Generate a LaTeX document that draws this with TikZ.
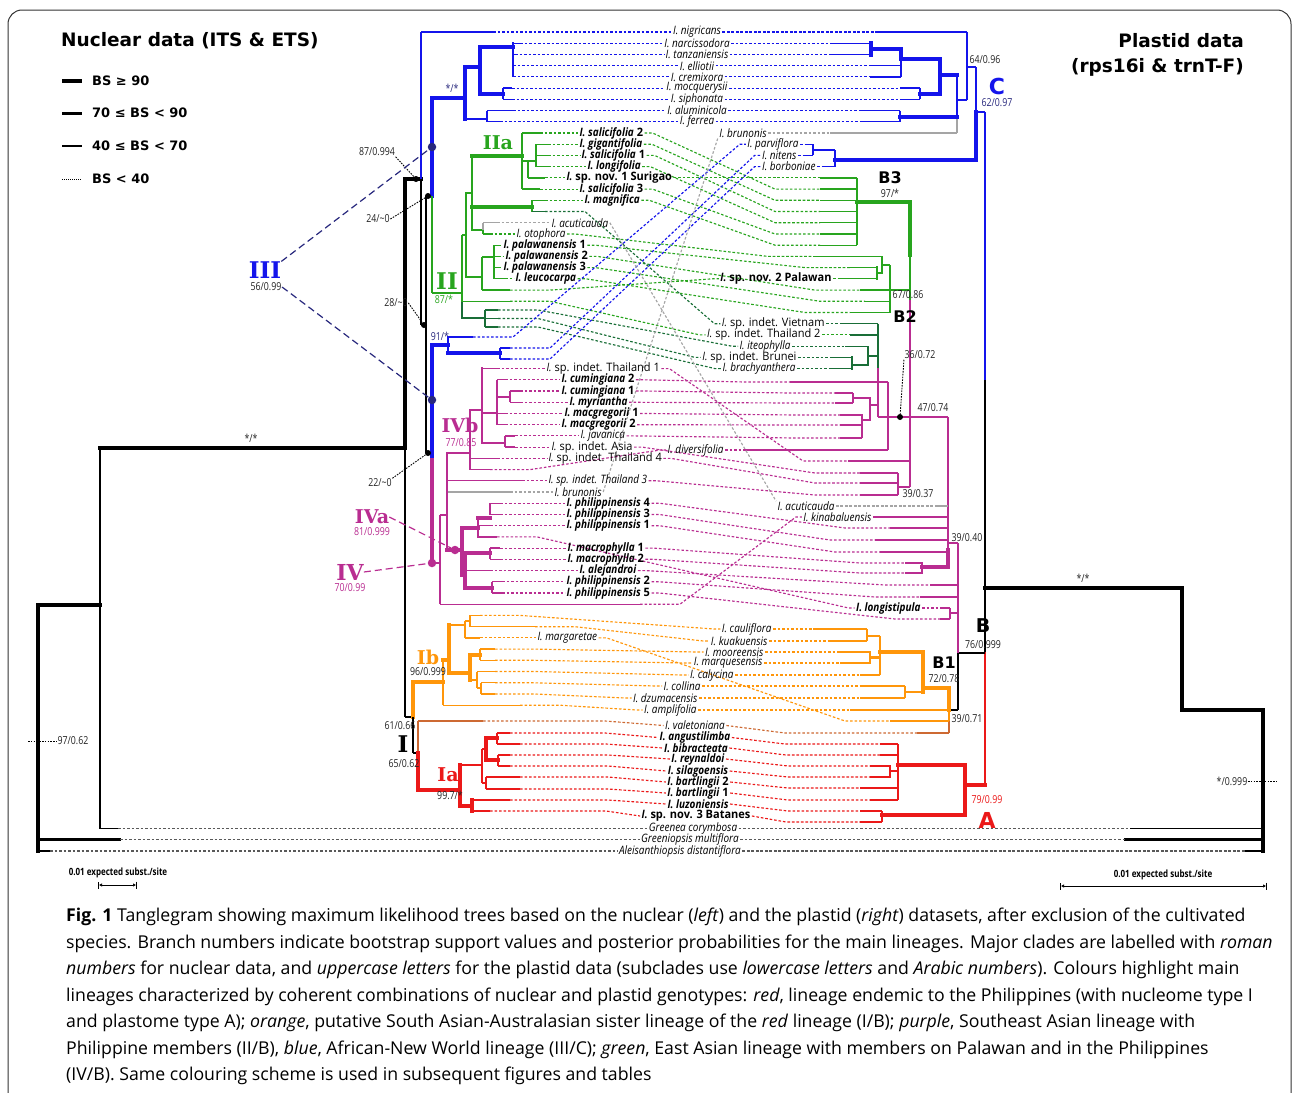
\documentclass[tikz,border=0pt]{standalone}
\usepackage{fontspec}
\setmainfont{Open Sans}
\newfontfamily\labff[UprightFeatures={FakeStretch=0.95},BoldFeatures={FakeStretch=0.95},ItalicFeatures={FakeStretch=0.86},BoldItalicFeatures={FakeStretch=0.86}]{Open Sans}
\newfontfamily\numff[FakeStretch=0.80]{Open Sans}
\newfontfamily\hdff{DejaVu Sans}
\newfontfamily\clff{DejaVu Serif}
\usetikzlibrary{arrows.meta,calc}
\definecolor{cB}{RGB}{20,20,235}
\definecolor{cG}{RGB}{40,165,30}
\definecolor{cD}{RGB}{25,110,55}
\definecolor{cP}{RGB}{185,45,145}
\definecolor{cO}{RGB}{255,150,10}
\definecolor{cR}{RGB}{235,25,25}
\definecolor{cBr}{RGB}{205,105,50}
\definecolor{cGr}{RGB}{165,165,165}
\definecolor{cN}{RGB}{40,40,125}
\definecolor{cK}{RGB}{35,35,35}
\tikzset{
 th/.style={line width=1.3pt},
 md/.style={line width=2.8pt, line cap=rect},
 tk/.style={line width=4.2pt, line cap=rect},
 con/.style={line width=1.15pt, dash pattern=on 2.6pt off 1.9pt},
 lab/.style={font=\labff\fontsize{11.6}{12}\selectfont, inner xsep=1.3pt, inner ysep=0.2pt},
 sv/.style={font=\numff\fontsize{11}{11}\selectfont, inner sep=0.5pt, text=cK},
 ldr/.style={line width=0.9pt, dash pattern=on 1.6pt off 1.2pt},
 dashl/.style={line width=1.2pt, dash pattern=on 7pt off 4pt},
 dotsm/.style={circle, fill, inner sep=0pt, minimum size=6pt},
 dotbg/.style={circle, fill, inner sep=0pt, minimum size=8.5pt},
 clf/.style={font=\clff\bfseries\fontsize{#1}{#1}\selectfont, inner sep=0pt},
 clr/.style={font=\hdff\bfseries\fontsize{#1}{#1}\selectfont, inner sep=0pt},
 lgd/.style={font=\hdff\bfseries\fontsize{13}{14}\selectfont, anchor=west, inner sep=0pt},
 captxt/.style={font=\fontsize{17.7}{19}\selectfont, anchor=west, inner sep=0pt},
 ttl/.style={font=\hdff\bfseries\fontsize{18.5}{20}\selectfont, inner sep=0pt},
}
% label on the left row (anchor west at #7)
\newcommand\tL[8]{\node[lab,anchor=west] (#1) at (#7,#4) {#8};
 \draw[con,#2] (#3,#4) -- (#1.west);
 \draw[con,#2] (#1.east) -- ++(8,0) -- (#5-45,#6) -- (#5,#6);}
% label on the right row (anchor east at #7)
\newcommand\tR[8]{\node[lab,anchor=east] (#1) at (#7,#6) {#8};
 \draw[con,#2] (#3,#4) -- (#3+40,#4) -- ([xshift=-6pt]#1.west) -- (#1.west);
 \draw[con,#2] (#1.east) -- (#5,#6);}
% label centred at (#7,#8)
\newcommand\tM[9]{\node[lab] (#1) at (#7,#8) {#9};
 \draw[con,#2] (#3,#4) -- (#7-90,#4) -- (#1.west);
 \draw[con,#2] (#1.east) -- (#7+90,#6) -- (#5,#6);}
\begin{document}
\begin{tikzpicture}[x=1pt,y=-1pt]
\useasboundingbox (0,0) rectangle (1292,1092);
\draw[line width=1pt, rounded corners=14pt, black!80] (8,10) rectangle (1291,1110);
% ---------------- titles and legend
\node[ttl, anchor=west] (t1) at (61,41) {Nuclear data (ITS \& ETS)};
\node[ttl, anchor=east] (t2) at (1244,41) {Plastid data};
\node[ttl, anchor=east] (t3) at (1244,67) {(rps16i \& trnT-F)};
\draw[line width=4.5pt] (62,81) -- (82,81);
\draw[line width=3pt] (62,113) -- (82,113);
\draw[line width=1.4pt] (62,146) -- (82,146);
\draw[line width=1pt, dash pattern=on 1pt off 1pt] (62,179) -- (82,179);
\node[lgd] (lg1) at (92,81) {BS ≥ 90};
\node[lgd] (lg2) at (92,113) {70 ≤ BS < 90};
\node[lgd] (lg3) at (92,146) {40 ≤ BS < 70};
\node[lgd] (lg4) at (92,179) {BS < 40};
% ================= LEFT TREE
\draw[tk] (38,605) -- (38,851);
\draw[tk] (38,605) -- (100,605);
\draw[th] (100,448) -- (100,828.6);
\draw[tk] (100,448) -- (405,448);
\draw[th] (100,828.6) -- (118,828.6);
\draw[md] (38,839.8) -- (120,839.8);
\draw[th] (38,851) -- (50,851);
\draw[tk] (405,179) -- (405,448);
\draw[th] (405,448) -- (405,717);
\draw[tk] (405,179) -- (421,179);
\draw[th,cB] (421,32) -- (421,179);
\draw[th] (421,179) -- (421,325);
\draw[th,cB] (421,32) -- (493,32);
\draw[th] (421,325) -- (426,325);
\draw[th] (426,196) -- (426,453);
\draw[th] (426,196) -- (432,196);
\draw[th] (426,453) -- (432,453);
\draw[tk,cB] (432,98) -- (432,196);
\draw[th,cG] (432,196) -- (432,293);
\draw[tk,cB] (432,98) -- (465,98);
\draw[tk,cB] (465,67) -- (465,119);
\draw[tk,cB] (465,67) -- (480,67);
\draw[tk,cB] (480,47) -- (480,94);
\draw[tk,cB] (480,94) -- (503,94);
\draw[th,cB] (503,88.1) -- (503,99.3);
\draw[th,cB] (503,88.1) -- (512,88.1);
\draw[th,cB] (503,99.3) -- (512,99.3);
\draw[tk,cB] (480,47) -- (513,47);
\draw[md,cB] (513,43.2) -- (513,55);
\draw[th,cB] (513,55) -- (513,76.9);
\draw[th,cB] (513,43.2) -- (520,43.2);
\draw[th,cB] (513,54.4) -- (515,54.4);
\draw[th,cB] (487,119) -- (465,119);
\draw[th,cB] (487,110.5) -- (487,121.8);
\draw[th,cB] (487,110.5) -- (513,110.5);
\draw[th,cB] (487,121.8) -- (500,121.8);
\draw[th,cG] (432,293) -- (462,293);
\draw[th,cG] (462,235) -- (462,303);
\draw[md,cD] (462,303) -- (462,318);
\draw[th,cG] (462,235) -- (466,235);
\draw[th,cG] (466,193) -- (466,277);
\draw[md,cG] (466,193) -- (472,193);
\draw[md,cG] (466,277) -- (482,277);
\draw[md,cG] (472,156) -- (472,230);
\draw[tk,cG] (472,156) -- (522,156);
\draw[th,cG] (522,133) -- (522,189.1);
\draw[th,cG] (522,133) -- (540,133);
\draw[th,cG] (522,189.1) -- (540,189.1);
\draw[md,cG] (522,161) -- (528,161);
\draw[th,cG] (528,161) -- (528,177.9);
\draw[th,cG] (528,177.9) -- (545,177.9);
\draw[md,cG] (528,161) -- (536,161);
\draw[th,cG] (536,144.2) -- (536,166.6);
\draw[th,cG] (536,144.2) -- (548,144.2);
\draw[th,cG] (536,155.4) -- (548,155.4);
\draw[th,cG] (536,166.6) -- (548,166.6);
\draw[tk,cG] (472,207) -- (532,207);
\draw[th,cG] (532,200.3) -- (532,211.5);
\draw[th,cG] (532,200.3) -- (545,200.3);
\draw[th,cD] (532,211.5) -- (545,211.5);
\draw[th,cG] (472,230) -- (483,230);
\draw[th,cGr] (483,222.7) -- (483,230);
\draw[th,cG] (483,230) -- (483,234);
\draw[th,cGr] (483,222.7) -- (497,222.7);
\draw[th,cG] (483,234) -- (490,234);
\draw[th,cG] (482,257) -- (482,290.1);
\draw[th,cG] (482,257) -- (494,257);
\draw[th,cG] (482,290.1) -- (510,290.1);
\draw[th,cG] (494,245.2) -- (494,278.8);
\draw[th,cG] (494,245.2) -- (498,245.2);
\draw[th,cG] (494,256.4) -- (498,256.4);
\draw[th,cG] (494,267.6) -- (498,267.6);
\draw[th,cG] (494,278.8) -- (505,278.8);
\draw[th,cG] (462,301.3) -- (510,301.3);
\draw[md,cD] (462,318) -- (485,318);
\draw[th,cD] (485,310) -- (485,327);
\draw[th,cD] (485,310) -- (498,310);
\draw[th,cD] (485,318.5) -- (498,318.5);
\draw[th,cD] (485,327) -- (498,327);
\draw[tk,cB] (432,345) -- (432,460);
\draw[tk,cB] (432,345) -- (448,345);
\draw[md,cB] (448,337) -- (448,353);
\draw[th,cB] (448,337) -- (473,337);
\draw[tk,cB] (448,353) -- (500,353);
\draw[th,cB] (500,348) -- (500,359);
\draw[th,cB] (500,348) -- (510,348);
\draw[th,cB] (500,359) -- (510,359);
\draw[tk,cP] (432,460) -- (432,563);
\draw[th,cP] (432,563) -- (440,563);
\draw[th,cP] (440,515) -- (440,604.2);
\draw[th,cP] (440,604.2) -- (640,604.2);
\draw[th,cP] (440,515) -- (447,515);
\draw[md,cP] (447,453) -- (447,550);
\draw[md,cP] (447,453) -- (470,453);
\draw[th,cP] (447,480.8) -- (522,480.8);
\draw[th,cGr] (448,492) -- (510,492);
\draw[th,cP] (470,410) -- (470,469.6);
\draw[md,cP] (470,410) -- (482,410);
\draw[th,cP] (470,458.4) -- (497,458.4);
\draw[th,cP] (470,469.6) -- (490,469.6);
\draw[md,cP] (482,368.6) -- (482,443);
\draw[th,cP] (482,368.6) -- (497,368.6);
\draw[md,cP] (482,413) -- (497,413);
\draw[md,cP] (482,443) -- (505,443);
\draw[th,cP] (497,379.8) -- (497,424.7);
\draw[th,cP] (497,379.8) -- (505,379.8);
\draw[th,cP] (497,413.5) -- (505,413.5);
\draw[th,cP] (497,424.7) -- (505,424.7);
\draw[md,cP] (497,397) -- (510,397);
\draw[th,cP] (510,391) -- (510,402.3);
\draw[th,cP] (510,391) -- (520,391);
\draw[th,cP] (510,402.3) -- (520,402.3);
\draw[th,cP] (505,435.9) -- (505,447.1);
\draw[th,cP] (505,435.9) -- (515,435.9);
\draw[th,cP] (505,447.1) -- (515,447.1);
\draw[tk,cP] (447,550) -- (462,550);
\draw[tk,cP] (462,528) -- (462,575);
\draw[tk,cP] (462,528) -- (478,528);
\draw[md,cP] (478,518) -- (478,536.9);
\draw[tk,cP] (478,518) -- (490,518);
\draw[th,cP] (490,503.2) -- (490,514.5);
\draw[th,cP] (490,503.2) -- (500,503.2);
\draw[th,cP] (490,514.5) -- (500,514.5);
\draw[th,cP] (478,525.7) -- (490,525.7);
\draw[th,cP] (478,536.9) -- (497,536.9);
\draw[tk,cP] (462,575) -- (465,575);
\draw[tk,cP] (465,553) -- (465,588);
\draw[tk,cP] (465,553) -- (490,553);
\draw[th,cP] (490,548.1) -- (490,559.3);
\draw[th,cP] (490,548.1) -- (500,548.1);
\draw[th,cP] (490,559.3) -- (500,559.3);
\draw[th,cP] (465,570.6) -- (490,570.6);
\draw[tk,cP] (465,588) -- (492,588);
\draw[th,cP] (492,581.8) -- (492,593);
\draw[th,cP] (492,581.8) -- (502,581.8);
\draw[th,cP] (492,593) -- (502,593);
\draw[th] (405,717) -- (413,717);
\draw[tk,cO] (413,682) -- (413,717);
\draw[th] (413,717) -- (413,753);
\draw[tk,cO] (413,682) -- (443,682);
\draw[th,cO] (443,660) -- (443,705.2);
\draw[tk,cO] (443,660) -- (449,660);
\draw[th,cO] (443,705.2) -- (520,705.2);
\draw[tk,cO] (449,625) -- (449,673);
\draw[th,cO] (449,625) -- (465,625);
\draw[th,cO] (465,621) -- (465,637.9);
\draw[th,cO] (465,621) -- (470,621);
\draw[th,cO] (470,615.4) -- (470,626.7);
\draw[th,cO] (470,615.4) -- (480,615.4);
\draw[th,cO] (470,626.7) -- (535,626.7);
\draw[th,cO] (465,637.9) -- (480,637.9);
\draw[tk,cO] (449,673) -- (470,673);
\draw[tk,cO] (470,655) -- (470,680);
\draw[tk,cO] (470,655) -- (480,655);
\draw[th,cO] (480,649.1) -- (480,660.3);
\draw[th,cO] (480,649.1) -- (495,649.1);
\draw[th,cO] (480,660.3) -- (495,660.3);
\draw[th,cO] (470,680) -- (477,680);
\draw[th,cO] (477,671.5) -- (477,688);
\draw[th,cO] (477,671.5) -- (495,671.5);
\draw[th,cO] (477,688) -- (481,688);
\draw[th,cO] (481,682.8) -- (481,694);
\draw[th,cO] (481,682.8) -- (495,682.8);
\draw[th,cO] (481,694) -- (495,694);
\draw[th] (413,753) -- (418,753);
\draw[th,cBr] (418,721) -- (418,753);
\draw[tk,cR] (418,753) -- (418,790);
\draw[th,cBr] (418,721) -- (483,721);
\draw[tk,cR] (418,790) -- (460,790);
\draw[tk,cR] (460,765) -- (460,806);
\draw[th,cR] (460,765) -- (482,765);
\draw[th,cR] (482,749) -- (482,783);
\draw[th,cR] (482,749) -- (486,749);
\draw[tk,cR] (486,738) -- (486,760);
\draw[tk,cR] (486,738) -- (497,738);
\draw[th,cR] (497,733) -- (497,744);
\draw[th,cR] (497,733) -- (510,733);
\draw[th,cR] (497,744) -- (520,744);
\draw[tk,cR] (486,760) -- (498,760);
\draw[th,cR] (498,755) -- (498,766);
\draw[th,cR] (498,755) -- (510,755);
\draw[th,cR] (498,766) -- (510,766);
\draw[th,cR] (482,783) -- (486,783);
\draw[th,cR] (486,777) -- (486,789);
\draw[th,cR] (486,777) -- (520,777);
\draw[th,cR] (486,789) -- (520,789);
\draw[tk,cR] (460,806) -- (472,806);
\draw[tk,cR] (472,800) -- (472,811);
\draw[th,cR] (472,800) -- (510,800);
\draw[th,cR] (472,811) -- (490,811);
% ================= RIGHT TREE
\draw[tk] (985,588) -- (1182,588);
\draw[tk] (1182,588) -- (1182,710);
\draw[tk] (1182,710) -- (1263,710);
\draw[tk] (1263,710) -- (1263,851);
\draw[th] (1130,828.6) -- (1263,828.6);
\draw[md] (1125,839.8) -- (1263,839.8);
\draw[th] (1245,851) -- (1263,851);
\draw[th,cB] (985,112) -- (985,380);
\draw[th] (985,380) -- (985,653);
\draw[md,cR] (985,653) -- (985,785);
\draw[th,cB] (985,112) -- (976,112);
\draw[th,cB] (976,67) -- (976,112);
\draw[tk,cB] (976,112) -- (976,160);
\draw[th,cB] (976,67) -- (967,67);
\draw[th,cB] (967,32) -- (967,100);
\draw[th,cB] (878,32) -- (967,32);
\draw[th,cB] (967,100) -- (957,100);
\draw[th,cB] (957,75) -- (957,117);
\draw[th,cGr] (957,117) -- (957,133);
\draw[tk,cB] (957,75) -- (940,75);
\draw[tk,cB] (940,59) -- (940,94);
\draw[tk,cB] (940,59) -- (901,59);
\draw[tk,cB] (901,48.8) -- (901,59);
\draw[th,cB] (901,59) -- (901,76.9);
\draw[tk,cB] (901,48.8) -- (871,48.8);
\draw[tk,cB] (871,43.2) -- (871,54.4);
\draw[th,cB] (830,43.2) -- (871,43.2);
\draw[th,cB] (830,54.4) -- (871,54.4);
\draw[th,cB] (870,65.7) -- (901,65.7);
\draw[th,cB] (870,76.9) -- (901,76.9);
\draw[tk,cB] (940,94) -- (920,94);
\draw[th,cB] (920,88.1) -- (920,99.3);
\draw[th,cB] (900,88.1) -- (920,88.1);
\draw[th,cB] (900,99.3) -- (920,99.3);
\draw[tk,cB] (957,117) -- (900,117);
\draw[th,cB] (900,110.5) -- (900,121.8);
\draw[th,cB] (860,110.5) -- (900,110.5);
\draw[th,cB] (860,121.8) -- (900,121.8);
\draw[th,cGr] (830,133) -- (957,133);
\draw[tk,cB] (976,160) -- (835,160);
\draw[th,cB] (835,150) -- (835,166.6);
\draw[th,cB] (835,150) -- (813,150);
\draw[th,cB] (813,144.2) -- (813,155.4);
\draw[th,cB] (805,144.2) -- (813,144.2);
\draw[th,cB] (805,155.4) -- (813,155.4);
\draw[th,cB] (822,166.6) -- (835,166.6);
\draw[th] (985,653) -- (958,653);
\draw[th,cP] (958,543) -- (958,653);
\draw[th] (958,653) -- (958,710);
\draw[th,cP] (958,543) -- (948,543);
\draw[th,cP] (948,417) -- (948,550);
\draw[tk,cP] (948,550) -- (948,567);
\draw[th,cP] (948,417) -- (878,417);
\draw[th,cP] (888,382) -- (888,450);
\draw[th,cP] (790,382) -- (888,382);
\draw[th,cP] (745,450) -- (888,450);
\draw[th,cD] (878,323.7) -- (878,368);
\draw[th,cP] (878,368) -- (878,417);
\draw[th,cD] (840,323.7) -- (878,323.7);
\draw[th,cD] (850,334.9) -- (878,334.9);
\draw[th,cD] (868,356) -- (878,356);
\draw[th,cD] (868,346.2) -- (868,365);
\draw[th,cD] (845,346.2) -- (868,346.2);
\draw[md,cD] (852,365) -- (868,365);
\draw[md,cD] (852,357.4) -- (852,368.6);
\draw[th,cD] (830,357.4) -- (852,357.4);
\draw[th,cD] (830,368.6) -- (852,368.6);
\draw[md,cP] (878,405) -- (870,405);
\draw[md,cP] (870,398) -- (870,420);
\draw[th,cP] (870,398) -- (853,398);
\draw[th,cP] (853,393) -- (853,403);
\draw[th,cP] (835,393) -- (853,393);
\draw[th,cP] (835,403) -- (853,403);
\draw[md,cP] (870,420) -- (862,420);
\draw[th,cP] (862,415) -- (862,438);
\draw[md,cP] (862,415) -- (862,425);
\draw[th,cP] (840,415) -- (862,415);
\draw[th,cP] (840,425) -- (862,425);
\draw[th,cP] (840,438) -- (862,438);
\draw[tk,cG] (910,202) -- (910,255);
\draw[th,cG] (910,255) -- (910,300);
\draw[th,cP] (910,300) -- (910,487);
\draw[tk,cG] (910,202) -- (857,202);
\draw[th,cG] (857,177.9) -- (857,245.2);
\foreach \yy in {177.9,189.1,200.3,211.5,222.7,234,245.2} {\draw[th,cG] (820,\yy) -- (857,\yy);}
\draw[th,cG] (890,290) -- (910,290);
\draw[th,cG] (890,265) -- (890,312.5);
\draw[th,cG] (890,265) -- (882,265);
\draw[th,cG] (882,256.4) -- (882,273);
\draw[th,cG] (813,256.4) -- (882,256.4);
\draw[md,cG] (882,273) -- (877,273);
\draw[md,cG] (877,267.6) -- (877,278.8);
\draw[th,cG] (850,267.6) -- (877,267.6);
\draw[th,cG] (840,278.8) -- (877,278.8);
\draw[th,cG] (860,290.1) -- (890,290.1);
\draw[th,cG] (865,301.3) -- (890,301.3);
\draw[th,cG] (850,312.5) -- (890,312.5);
\draw[th,cP] (848,461) -- (910,461);
\draw[th,cP] (910,487) -- (898,487);
\draw[th,cP] (898,473) -- (898,495);
\draw[th,cP] (860,473) -- (898,473);
\draw[th,cP] (860,483) -- (898,483);
\draw[th,cP] (860,495) -- (898,495);
\draw[th,cGr] (935,506) -- (948,506);
\draw[th,cP] (875,517) -- (948,517);
\draw[th,cP] (890,528) -- (948,528);
\draw[th,cP] (875,540) -- (948,540);
\draw[th,cP] (880,552) -- (948,552);
\draw[tk,cP] (948,567) -- (922,567);
\draw[md,cP] (922,563) -- (922,573);
\draw[th,cP] (905,563) -- (922,563);
\draw[th,cP] (905,573) -- (922,573);
\draw[th,cP] (930,585) -- (958,585);
\draw[th,cP] (920,597) -- (958,597);
\draw[th,cP] (950,613) -- (958,613);
\draw[th,cP] (950,608) -- (950,619);
\draw[th,cP] (940,608) -- (950,608);
\draw[th,cP] (940,619) -- (950,619);
\draw[th] (958,710) -- (949,710);
\draw[tk,cO] (949,688) -- (949,710);
\draw[th,cO] (949,710) -- (949,721);
\draw[th,cBr] (949,721) -- (949,733);
\draw[tk,cO] (949,688) -- (923,688);
\draw[tk,cO] (923,652) -- (923,692);
\draw[tk,cO] (923,652) -- (880,652);
\draw[th,cO] (880,636) -- (880,675);
\draw[th,cO] (880,636) -- (867,636);
\draw[th,cO] (867,629) -- (867,641);
\draw[th,cO] (813,629) -- (867,629);
\draw[th,cO] (830,641) -- (867,641);
\draw[md,cO] (880,657.5) -- (870,657.5);
\draw[md,cO] (870,652) -- (870,663);
\draw[th,cO] (840,652) -- (870,652);
\draw[th,cO] (840,663) -- (870,663);
\draw[th,cO] (860,675) -- (880,675);
\draw[th,cO] (923,692) -- (905,692);
\draw[th,cO] (905,686) -- (905,698);
\draw[th,cO] (860,686) -- (905,686);
\draw[th,cO] (860,698) -- (905,698);
\draw[th,cO] (850,710) -- (949,710);
\draw[th,cO] (890,721) -- (949,721);
\draw[th,cBr] (917,733) -- (949,733);
\draw[tk,cR] (985,785) -- (965,785);
\draw[tk,cR] (965,765) -- (965,815);
\draw[tk,cR] (965,765) -- (898,765);
\draw[th,cR] (898,744) -- (898,800);
\draw[th,cR] (880,744) -- (898,744);
\draw[th,cR] (880,755) -- (898,755);
\draw[th,cR] (860,788) -- (898,788);
\draw[th,cR] (870,800) -- (898,800);
\draw[md,cR] (898,771) -- (890,771);
\draw[md,cR] (890,766) -- (890,777);
\draw[th,cR] (870,766) -- (890,766);
\draw[th,cR] (870,777) -- (890,777);
\draw[tk,cR] (965,815) -- (882,815);
\draw[th,cR] (882,811) -- (882,822);
\draw[th,cR] (860,811) -- (882,811);
\draw[th,cR] (860,822) -- (882,822);
% ================= CONNECTORS
\tM{b1}{cB}{493}{32}{878}{32}{697}{32}{\textit{I. nigricans}}
\tM{b2}{cB}{520}{43.2}{830}{43.2}{697}{43.2}{\textit{I. narcissodora}}
\tM{b3}{cB}{515}{54.4}{830}{54.4}{697}{54.4}{\textit{I. tanzaniensis}}
\tM{b4}{cB}{513}{65.7}{870}{65.7}{697}{65.7}{\textit{I. elliotii}}
\tM{b5}{cB}{513}{76.9}{870}{76.9}{697}{76.9}{\textit{I. cremixora}}
\tM{b6}{cB}{512}{88.1}{900}{88.1}{697}{88.1}{\textit{I. mocquerysii}}
\tM{b7}{cB}{512}{99.3}{900}{99.3}{697}{99.3}{\textit{I. siphonata}}
\tM{b8}{cB}{513}{110.5}{860}{110.5}{697}{110.5}{\textit{I. aluminicola}}
\tM{b9}{cB}{500}{121.8}{860}{121.8}{697}{121.8}{\textit{I. ferrea}}
\tL{g1}{cG}{540}{133}{820}{189.1}{578}{\textbf{\textit{I. salicifolia} 2}}
\tL{g2}{cG}{548}{144.2}{820}{200.3}{578}{\textbf{\textit{I. gigantifolia}}}
\tL{g3}{cG}{548}{155.4}{820}{211.5}{580}{\textbf{\textit{I. salicifolia} 1}}
\tL{g4}{cG}{548}{166.6}{820}{222.7}{586}{\textbf{\textit{I. longifolia}}}
\tL{g5}{cG}{545}{177.9}{820}{177.9}{565}{\textbf{\textit{I.} sp. nov. 1 Surigao}}
\tL{g6}{cG}{540}{189.1}{820}{234}{578}{\textbf{\textit{I. salicifolia} 3}}
\tL{g7}{cG}{545}{200.3}{820}{245.2}{583}{\textbf{\textit{I. magnifica}}}
\tL{g8}{cG}{490}{234}{813}{256.4}{515}{\textit{I. otophora}}
\tL{g9}{cG}{498}{245.2}{850}{267.6}{502}{\textbf{\textit{I. palawanensis} 1}}
\tL{g10}{cG}{498}{256.4}{860}{290.1}{504}{\textbf{\textit{I. palawanensis} 2}}
\tL{g11}{cG}{498}{267.6}{865}{301.3}{502}{\textbf{\textit{I. palawanensis} 3}}
\tL{g12}{cG}{505}{278.8}{850}{312.5}{514}{\textbf{\textit{I. leucocarpa}}}
\tR{g13}{cG}{510}{290.1}{840}{278.8}{833}{\textbf{\textit{I.} sp. nov. 2 Palawan}}
\tR{d1}{cD}{545}{211.5}{840}{323.7}{826}{\textit{I.} sp. indet. Vietnam}
\tR{d2}{cG}{510}{301.3}{850}{334.9}{822}{\textit{I.} sp. indet. Thailand 2}
\tR{d3}{cD}{498}{310}{845}{346.2}{792}{\textit{I. iteophylla}}
\tR{d4}{cD}{498}{318.5}{830}{357.4}{798}{\textit{I.} sp. indet. Brunei}
\tR{d5}{cD}{498}{327}{830}{368.6}{797}{\textit{I. brachyanthera}}
\tR{p1}{cB}{473}{337}{805}{144.2}{800}{\textit{I. parviflora}}
\tR{p2}{cB}{510}{348}{805}{155.4}{798}{\textit{I. nitens}}
\tR{p3}{cB}{510}{359}{822}{166.6}{817}{\textit{I. borboniae}}
\node[lab,anchor=west] (acA) at (550,222.7) {\textit{I. acuticauda}};
\node[lab] (acB) at (806,506) {\textit{I. acuticauda}};
\draw[con,cGr] (497,222.7) -- (acA.west);
\draw[con,cGr] (acA.east) -- (acB.north west);
\draw[con,cGr] (acB.east) -- (935,506);
\node[lab,anchor=west] (brA) at (553,492) {\textit{I. brunonis}};
\node[lab] (brB) at (743,133) {\textit{I. brunonis}};
\draw[con,cGr] (510,492) -- (brA.west);
\draw[con,cGr] (brA.east) -- (brB.south west);
\draw[con,cGr] (brB.east) -- (830,133);
\tL{k1}{cP}{497}{368.6}{848}{461}{545}{\textit{I.} sp. indet. Thailand 1}
\tL{k2}{cP}{505}{379.8}{790}{382}{560}{\textbf{\textit{I. cumingiana} 2}}
\tL{k3}{cP}{520}{391}{835}{393}{560}{\textbf{\textit{I. cumingiana} 1}}
\tL{k4}{cP}{520}{402.3}{835}{403}{568}{\textbf{\textit{I. myriantha}}}
\tL{k5}{cP}{505}{413.5}{840}{415}{563}{\textbf{\textit{I. macgregorii} 1}}
\tL{k6}{cP}{505}{424.7}{840}{425}{560}{\textbf{\textit{I. macgregorii} 2}}
\tL{k7}{cP}{515}{435.9}{840}{438}{579}{\textit{I. javanica}}
\tL{k8}{cP}{515}{447.1}{860}{473}{550}{\textit{I.} sp. indet. Asia}
\tR{k9}{cP}{490}{469.6}{745}{450}{725}{\textit{I. diversifolia}}
\tL{k10}{cP}{497}{458.4}{860}{483}{547}{\textit{I.} sp. indet. Thailand 4}
\tL{k11}{cP}{522}{480.8}{860}{495}{547}{\textit{I. sp. indet. Thailand 3}}
\tL{k12}{cP}{500}{503.2}{890}{528}{565}{\textbf{\textit{I. philippinensis} 4}}
\tL{k13}{cP}{500}{514.5}{875}{540}{565}{\textbf{\textit{I. philippinensis} 3}}
\tL{k14}{cP}{490}{525.7}{880}{552}{565}{\textbf{\textit{I. philippinensis} 1}}
\tR{k15}{cP}{640}{604.2}{875}{517}{873}{\textit{I. kinabaluensis}}
\tR{k16}{cP}{497}{536.9}{940}{608}{922}{\textbf{\textit{I. longistipula}}}
\tL{k17}{cP}{500}{548.1}{905}{563}{566}{\textbf{\textit{I. macrophylla} 1}}
\tL{k18}{cP}{500}{559.3}{905}{573}{566}{\textbf{\textit{I. macrophylla} 2}}
\tL{k19}{cP}{490}{570.6}{930}{585}{578}{\textbf{\textit{I. alejandroi}}}
\tL{k20}{cP}{502}{581.8}{920}{597}{565}{\textbf{\textit{I. philippinensis} 2}}
\tL{k21}{cP}{502}{593}{940}{619}{565}{\textbf{\textit{I. philippinensis} 5}}
\tR{o1}{cO}{480}{615.4}{813}{629}{773}{\textit{I. cauliflora}}
\tR{o2}{cO}{535}{626.7}{830}{641}{769}{\textit{I. kuakuensis}}
\tL{o3}{cO}{480}{637.9}{890}{721}{536}{\textit{I. margaretae}}
\tR{o4}{cO}{495}{649.1}{840}{652}{765}{\textit{I. mooreensis}}
\tR{o5}{cO}{495}{660.3}{840}{663}{764}{\textit{I. marquesensis}}
\tR{o6}{cO}{495}{671.5}{860}{675}{735}{\textit{I. calycina}}
\tR{o7}{cO}{495}{682.8}{860}{686}{702}{\textit{I. collina}}
\tR{o8}{cO}{495}{694}{860}{698}{699}{\textit{I. dzumacensis}}
\tR{o9}{cO}{520}{705.2}{850}{710}{698}{\textit{I. amplifolia}}
\tM{o10}{cBr}{483}{721}{917}{733}{695}{725.5}{\textit{I. valetoniana}}
\tM{r1}{cR}{510}{733}{880}{744}{695}{737.5}{\textbf{\textit{I. angustilimba}}}
\tM{r2}{cR}{520}{744}{880}{755}{696}{748}{\textbf{\textit{I. bibracteata}}}
\tM{r3}{cR}{510}{755}{870}{766}{698}{759}{\textbf{\textit{I. reynaldoi}}}
\tM{r4}{cR}{510}{766}{870}{777}{698}{771}{\textbf{\textit{I. silagoensis}}}
\tM{r5}{cR}{520}{777}{860}{788}{698}{782}{\textbf{\textit{I. bartlingii} 2}}
\tM{r6}{cR}{520}{789}{870}{800}{698}{793}{\textbf{\textit{I. bartlingii} 1}}
\tM{r7}{cR}{510}{800}{860}{811}{698}{804}{\textbf{\textit{I. luzoniensis}}}
\tM{r8}{cR}{490}{811}{860}{822}{696}{816}{\textbf{\textit{I.} sp. nov. 3 Batanes}}
\tM{x1}{black!65}{118}{828.6}{1130}{828.6}{693}{828.6}{\textit{Greenea corymbosa}}
\tM{x2}{black!65}{120}{839.8}{1125}{839.8}{690}{839.8}{\textit{Greeniopsis multiflora}}
\tM{x3}{black!65}{50}{851}{1245}{851}{680}{851}{\textit{Aleisanthiopsis distantiflora}}
% ================= dots
\node[dotsm,black] (n1) at (416,179) {};
\node[dotsm,black] (n2) at (428,196) {};
\node[dotsm,black] (n3) at (424,325) {};
\node[dotsm,black] (n4) at (428,453) {};
\node[dotsm,black] (n5) at (900,417) {};
\node[dotbg,cN] (bd1) at (432,147) {};
\node[dotbg,cN] (bd2) at (432,400) {};
\node[dotbg,cP] (pd1) at (455,550) {};
\node[dotbg,cP] (pd2) at (432,563) {};
% ================= clade labels
\node[clf=23,text=cB] (lIII) at (265,270) {III};
\node[clf=23,text=cG] (lII) at (447,281) {II};
\node[clf=19,text=cG] (lIIa) at (498,143) {IIa};
\node[clf=19,text=cP] (lIVb) at (460,425) {IVb};
\node[clf=19,text=cP] (lIVa) at (372,517) {IVa};
\node[clf=22,text=cP] (lIV) at (350,572) {IV};
\node[clf=19,text=cO] (lIb) at (428,657) {Ib};
\node[clf=23,text=black] (lI) at (403,744) {I};
\node[clf=19,text=cR] (lIa) at (448,775) {Ia};
\node[clr=22,text=cB] (rC) at (997,86) {C};
\node[clr=16,text=black] (rB3) at (890,178) {B3};
\node[clr=16,text=black] (rB2) at (905,317) {B2};
\node[clr=19,text=black] (rB) at (983,626) {B};
\node[clr=16,text=black] (rB1) at (944,663) {B1};
\node[clr=22,text=cR] (rA) at (987,820) {A};
% ================= support values
\node[sv] (s1) at (251,438) {*/*};
\node[sv] (s2) at (73,741) {97/0.62};
\node[sv] (s3) at (1232,781) {*/0.999};
\node[sv] (s4) at (377,152) {87/0.994};
\node[sv] (s5) at (378,219) {24/\textasciitilde0};
\node[sv] (s6) at (396,303) {28/\textasciitilde0};
\node[sv] (s7) at (380,483) {22/\textasciitilde0};
\node[sv] (s8) at (266,287) {56/0.99};
\node[sv,text=cN] (s9) at (452,88) {*/*};
\node[sv,text=cG] (s10) at (444,299) {87/*};
\node[sv,text=cN] (s11) at (440,336) {91/*};
\node[sv,text=cP] (s12) at (461,443) {77/0.85};
\node[sv,text=cP] (s13) at (372,532) {81/0.999};
\node[sv,text=cP] (s14) at (350,588) {70/0.99};
\node[sv] (s15) at (428,672) {96/0.999};
\node[sv] (s16) at (400,726) {61/0.66};
\node[sv] (s17) at (404,764) {65/0.62};
\node[sv] (s18) at (450,795) {99.7/*};
\node[sv] (s19) at (985,60) {64/0.96};
\node[sv,text=cN] (s20) at (997,103) {62/0.97};
\node[sv] (s21) at (890,193) {97/*};
\node[sv] (s22) at (908,295) {67/0.86};
\node[sv] (s23) at (920,355) {36/0.72};
\node[sv] (s24) at (933,408) {47/0.74};
\node[sv] (s25) at (918,494) {39/0.37};
\node[sv] (s26) at (967,538) {39/0.40};
\node[sv] (s27) at (983,645) {76/0.999};
\node[sv] (s28) at (944,679) {72/0.78};
\node[sv] (s29) at (967,719) {39/0.71};
\node[sv,text=cR] (s30) at (987,800) {79/0.99};
\node[sv] (s31) at (1083,578) {*/*};
\coordinate (e2) at (28,741);
\coordinate (e3) at (1277,781);
\draw[ldr] (e2) -- (s2.west);
\draw[ldr] (s3.east) -- (e3);
\draw[ldr] (s4.south east) -- (n1);
\draw[ldr] (s5.east) -- (n2);
\draw[ldr] (s6.east) -- (n3);
\draw[ldr] (s7.north east) -- (n4);
\draw[ldr] (s23.south west) -- (n5);
\draw[dashl,cN] (lIII.north east) -- (bd1);
\draw[dashl,cN] (s8.east) -- (bd2);
\draw[dashl,cP] (lIVa.east) -- (pd1);
\draw[dashl,cP] (lIV.east) -- (pd2);
% ================= scale bars
\node[font=\numff\bfseries\fontsize{10}{10}\selectfont] (sc1) at (118,873) {0.01 expected subst./site};
\node[font=\numff\bfseries\fontsize{10}{10}\selectfont] (sc2) at (1163,875) {0.01 expected subst./site};
\draw[line width=1pt, |<->|, >={Latex[length=3pt,width=3.5pt]}] (98,885) -- (137,885);
\draw[line width=1pt, |<->|, >={Latex[length=3pt,width=3.5pt]}] (1060,886) -- (1267,886);
% ================= caption
\node[captxt] (c1) at (66,917) {\textbf{Fig. 1} Tanglegram showing maximum likelihood trees based on the nuclear (\textit{left}) and the plastid (\textit{right}) datasets, after exclusion of the cultivated};
\node[captxt] (c2) at (66,943.5) {species. Branch numbers indicate bootstrap support values and posterior probabilities for the main lineages. Major clades are labelled with \textit{roman}};
\node[captxt] (c3) at (66,970) {\textit{numbers} for nuclear data, and \textit{uppercase letters} for the plastid data (subclades use \textit{lowercase letters} and \textit{Arabic numbers}). Colours highlight main};
\node[captxt] (c4) at (66,996.5) {lineages characterized by coherent combinations of nuclear and plastid genotypes: \textit{red}, lineage endemic to the Philippines (with nucleome type I};
\node[captxt] (c5) at (66,1023) {and plastome type A); \textit{orange}, putative South Asian-Australasian sister lineage of the \textit{red} lineage (I/B); \textit{purple}, Southeast Asian lineage with};
\node[captxt] (c6) at (66,1049.5) {Philippine members (II/B), \textit{blue}, African-New World lineage (III/C); \textit{green}, East Asian lineage with members on Palawan and in the Philippines};
\node[captxt] (c7) at (66,1076) {(IV/B). Same colouring scheme is used in subsequent figures and tables};
\end{tikzpicture}
\end{document}
